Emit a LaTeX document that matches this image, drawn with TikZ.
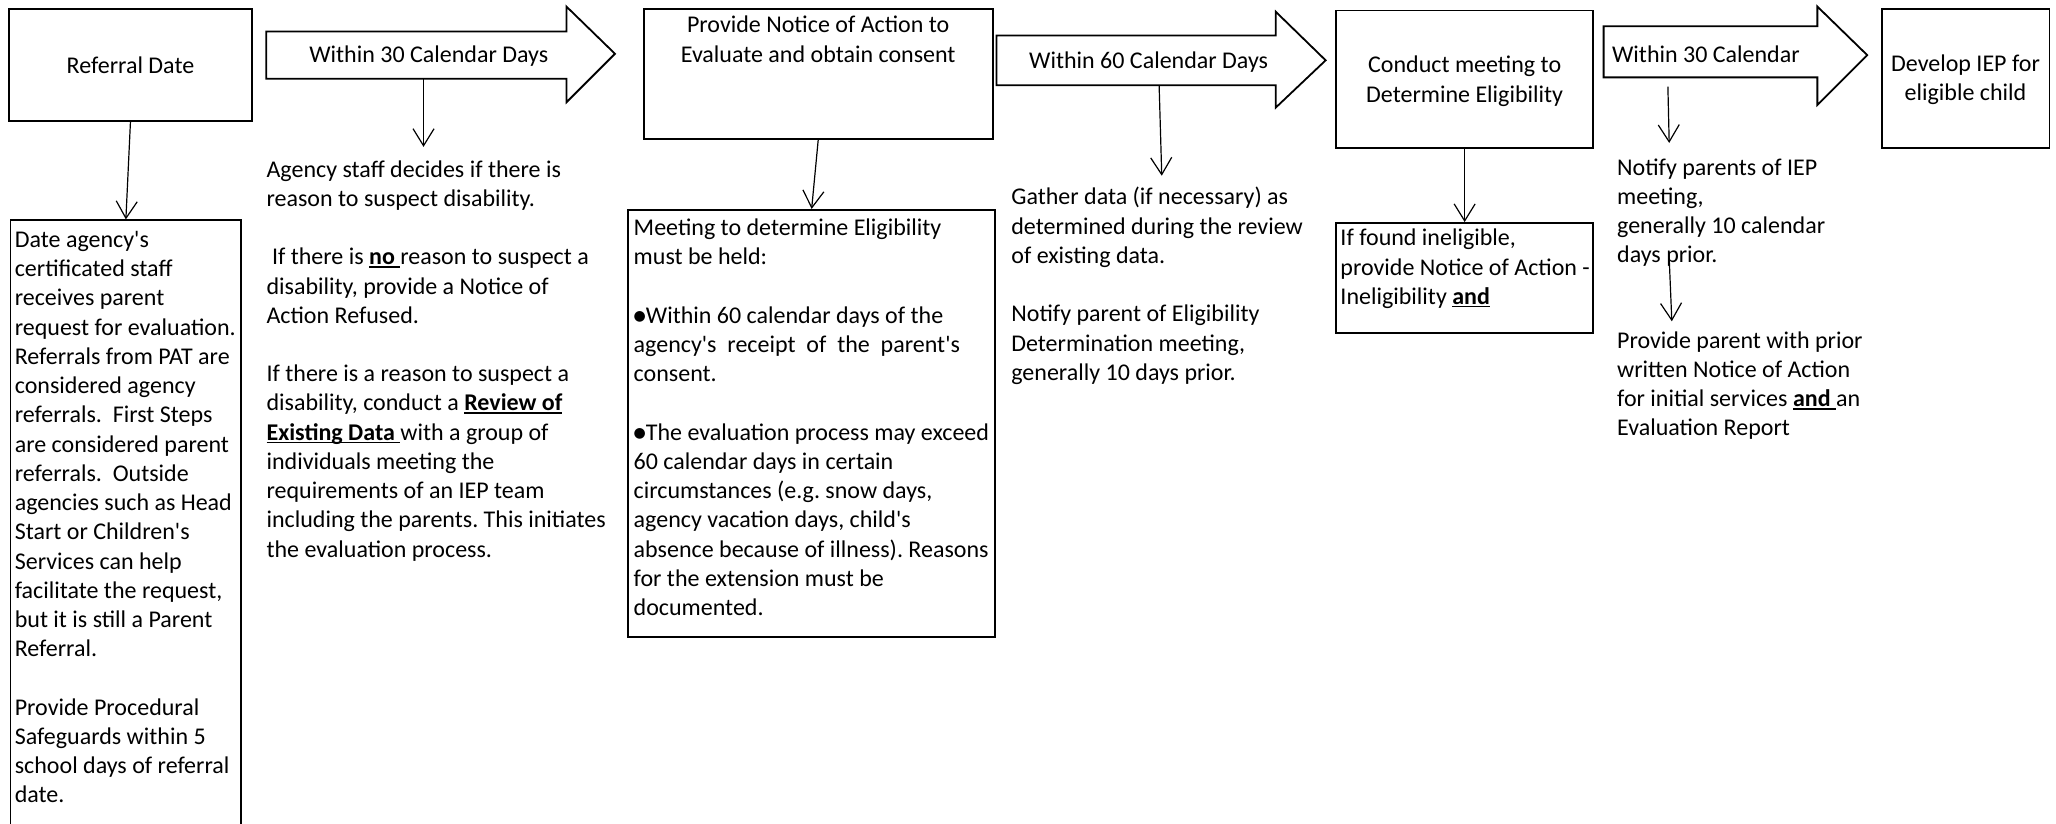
\documentclass[tikz,border=0pt]{standalone}
\usepackage{fontspec}
\setmainfont{Carlito}
\newfontfamily\dejavu{DejaVu Sans}
\usetikzlibrary{arrows.meta,fit}
\newcommand{\fs}{\fontsize{12}{14.62}\selectfont\frenchspacing}
\newcommand{\blt}{{\dejavu\fontsize{7}{7}\selectfont\raisebox{1.3pt}{●}}}
\newcommand{\ap}{\textquotesingle}
\newcommand{\myul}[1]{\setbox0\hbox{#1}\rlap{\rule[-1.5pt]{\wd0}{0.75pt}}\box0}
\begin{document}
\begin{tikzpicture}[x=0.6556pt,y=-0.6556pt,
  box/.style={draw, line width=0.9pt, inner sep=0pt},
  barrow/.style={draw, line width=0.9pt, line join=miter},
  conn/.style={line width=0.6pt, -{Straight Barb[length=8.5pt,width=10.5pt,line width=0.6pt]}},
  txt/.style={inner sep=0pt, anchor=north west, align=left, font=\fs},
  ctxt/.style={inner sep=0pt, align=center, font=\fs}]
\useasboundingbox (0,0) rectangle (1568,628.4);
% boxes
\node[box, fit={(7,7)(192,92)}] (A) {};
\node[box, fit={(8,168)(184,629)}] (B) {};
\node[box, fit={(491,7)(757,106)}] (C) {};
\node[box, fit={(479,160)(759,486)}] (D) {};
\node[box, fit={(1019,8)(1215,113)}] (E) {};
\node[box, fit={(1019,170)(1215,254)}] (G) {};
\node[box, fit={(1435,7)(1563,113)}] (F) {};
% block arrows
\draw[barrow] (203,24) -- (432,24) -- (432,5) -- (469,41) -- (432,78) -- (432,60) -- (203,60) -- cycle;
\draw[barrow] (760,27) -- (973,27) -- (973,9) -- (1011,46) -- (973,82) -- (973,65) -- (760,65) -- cycle;
\draw[barrow] (1223,20) -- (1386,20) -- (1386,5) -- (1424,42) -- (1386,80) -- (1386,59) -- (1223,59) -- cycle;
\node[ctxt] (a1t) at (327,43) {Within 30 Calendar Days};
\node[ctxt] (a2t) at (876,47.5) {Within 60 Calendar Days};
\node[ctxt] (a3t) at (1301,41) {Within 30 Calendar};
\coordinate (a1b) at (323,60);
\coordinate (a1e) at (323,112);
\coordinate (a2b) at (884,65);
\coordinate (a2e) at (886,134);
\coordinate (a3b) at (1272,66);
\coordinate (a3e) at (1273,109);
\coordinate (t3b) at (1273,197);
\coordinate (t3e) at (1275,245);
% box texts
\node[ctxt] (At) at (A.center) {Referral Date};
\node[ctxt, anchor=north] (Ct) at (624,12) {Provide Notice of Action to\\Evaluate and obtain consent};
\node[ctxt] (Et) at ([yshift=-1pt]E.center) {Conduct meeting to\\Determine Eligibility};
\node[ctxt] (Ft) at ([yshift=-0.7pt]F.center) {Develop IEP for\\eligible child};
\node[txt] (Bt) at (11,176) {Date agency\ap s\\certificated staff\\receives parent\\request for evaluation.\\Referrals from PAT are\\considered agency\\referrals.\ \ First Steps\\are considered parent\\referrals.\ \ Outside\\agencies such as Head\\Start or Children\ap s\\Services can help\\facilitate the request,\\but it is still a Parent\\Referral.\\\mbox{}\\Provide Procedural\\Safeguards within 5\\school days of referral\\date.};
\node[txt] (T1) at (203,122) {Agency staff decides if there is\\reason to suspect disability.\\\mbox{}\\\ If there is \myul{\textbf{no }}reason to suspect a\\disability, provide a Notice of\\Action Refused.\\\mbox{}\\If there is a reason to suspect a\\disability, conduct a \myul{\textbf{Review of}}\\\myul{\textbf{Existing Data }}with a group of\\individuals meeting the\\requirements of an IEP team\\including the parents. This initiates\\the evaluation process.};
\node[txt] (Dt) at (483,166.5) {Meeting to determine Eligibility\\must be held:\\\mbox{}\\\blt Within 60 calendar days of the\\agency\ap s\ \ receipt\ \ of\ \ the\ \ parent\ap s\\consent.\\\mbox{}\\\blt The evaluation process may exceed\\60 calendar days in certain\\circumstances (e.g. snow days,\\agency vacation days, child\ap s\\absence because of illness). Reasons\\for the extension must be\\documented.};
\node[txt] (T2) at (771,142.5) {Gather data (if necessary) as\\determined during the review\\of existing data.\\\mbox{}\\Notify parent of Eligibility\\Determination meeting,\\generally 10 days prior.};
\node[txt] (Gt) at (1022,174.5) {If found ineligible,\\provide Notice of Action -\\Ineligibility \myul{\textbf{and}}};
\node[txt] (T3) at (1233,120.5) {Notify parents of IEP\\meeting,\\generally 10 calendar\\days prior.};
\node[txt] (T4) at (1233,252.5) {Provide parent with prior\\written Notice of Action\\for initial services \myul{\textbf{and }}an\\Evaluation Report};
% connectors
\draw[conn] (A.south) -- (B.north);
\draw[conn] (a1b) -- (a1e);
\draw[conn] (C.south) -- (D.north);
\draw[conn] (a2b) -- (a2e);
\draw[conn] (E.south) -- (G.north);
\draw[conn] (a3b) -- (a3e);
\draw[conn] (t3b) -- (t3e);
\end{tikzpicture}
\end{document}
